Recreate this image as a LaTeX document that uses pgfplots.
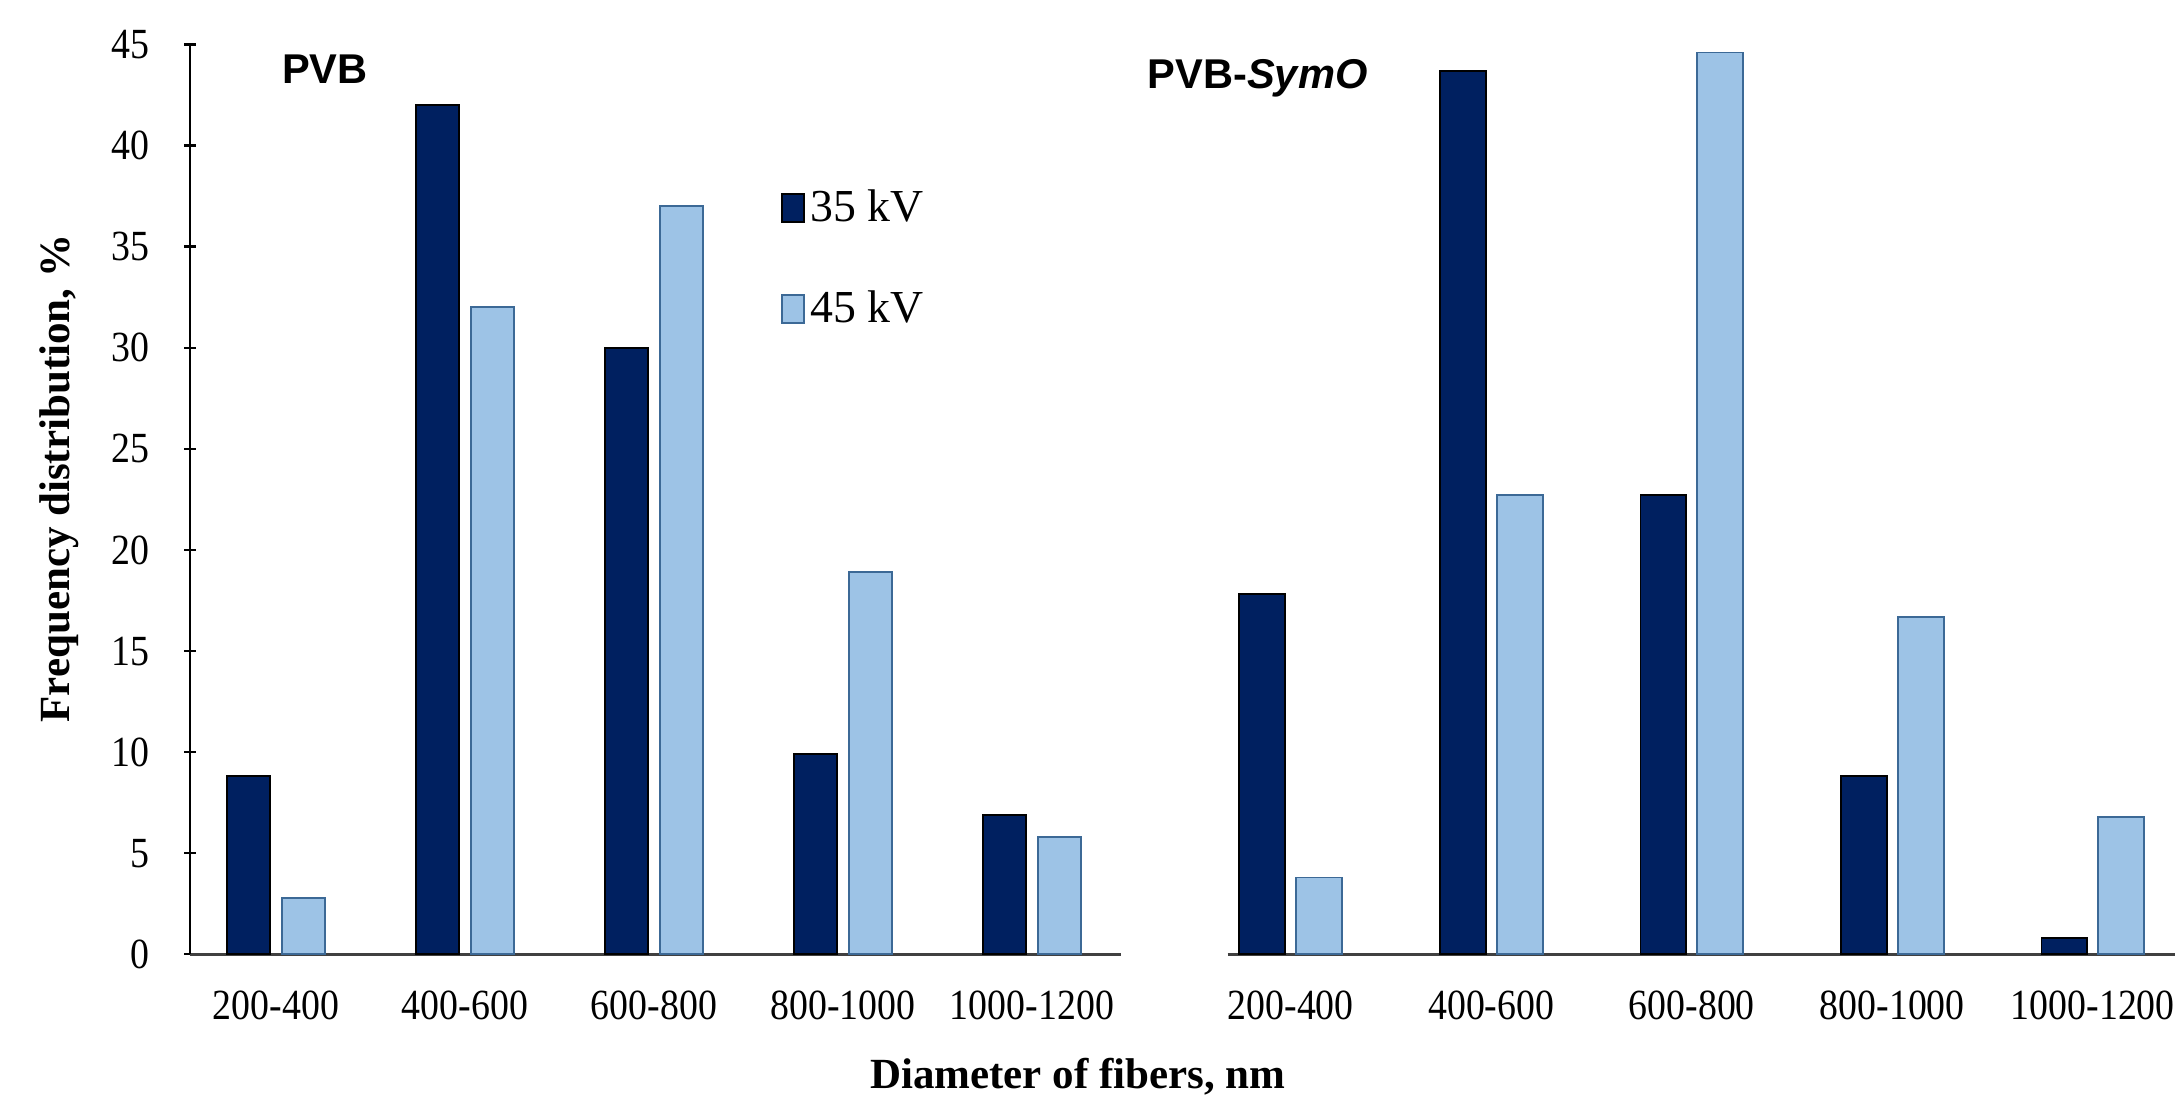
\documentclass[border=0pt]{standalone}
\usepackage{fontspec}
\setmainfont{Liberation Serif}
\newfontfamily\tickfont{Liberation Serif}[FakeStretch=0.88]
\newfontfamily\titlefont{Liberation Sans}
\usepackage{pgfplots}
\pgfplotsset{compat=1.18}
\definecolor{darkbar}{RGB}{0,32,96}
\definecolor{lightbar}{RGB}{157,195,230}
\definecolor{lightedge}{RGB}{60,105,150}
\pgfplotsset{
  common/.style={
    scale only axis, height=328pt, ymin=0, ymax=45,
    xtick={0,1,2,3,4},
    xticklabels={200-400,400-600,600-800,800-1000,1000-1200},
    xtick style={draw=none},
    tick align=inside,
    axis x line=bottom,
    x axis line style={-, line width=1.2pt, black!75},
    xticklabel style={font=\tickfont\fontsize{15.5}{18}\selectfont, yshift=-7.5pt},
    /pgf/number format/assume math mode=true,
    clip=false,
  },
  darkplot/.style={ybar, bar width=#1, fill=darkbar, draw=black, line width=0.7pt,
    legend image code/.code={\draw[fill=darkbar, draw=black, line width=0.7pt] (0pt,-5pt) rectangle (8pt,5pt);}},
  lightplot/.style={ybar, bar width=#1, fill=lightbar, draw=lightedge, line width=0.7pt,
    legend image code/.code={\draw[fill=lightbar, draw=lightedge, line width=0.7pt] (0pt,-5pt) rectangle (8pt,5pt);}},
}
\begin{document}
\begin{tikzpicture}
\useasboundingbox (0pt,0pt) rectangle (784pt,397pt);
% left panel
\begin{axis}[common, at={(68.5pt,53pt)}, anchor=south west, width=335.5pt,
  xmin=-0.455, xmax=4.47,
  axis y line=left, y axis line style={-, line width=0.8pt, black},
  ytick={0,5,...,45}, ytick style={black, line width=0.8pt},
  major tick length=4pt,
  yticklabel style={font=\tickfont\fontsize{15.5}{18}\selectfont, xshift=-9pt},
  legend style={draw=none, fill=none, at={(0.625,0.853)}, anchor=north west,
    row sep=19.5pt, font=\fontsize{16.5}{19}\selectfont,
    /tikz/every even column/.append style={column sep=5.5pt}},
  legend cell align=left,
]
\addplot[darkplot=15.5pt, bar shift=-10pt] coordinates {(0,8.8) (1,42.0) (2,30.0) (3,9.9) (4,6.9)};
\addlegendentry{35 kV}
\addplot[lightplot=15.5pt, bar shift=10pt] coordinates {(0,2.8) (1,32.0) (2,37.0) (3,18.9) (4,5.8)};
\addlegendentry{45 kV}
\end{axis}
% right panel
\begin{scope}
\clip (442.5pt,0pt) rectangle (784pt,397pt);
\begin{axis}[common, at={(442.5pt,53pt)}, anchor=south west, width=341.5pt,
  xmin=-0.315, xmax=4.41, axis y line=none]
\addplot[darkplot=16.5pt, bar shift=-10.25pt] coordinates {(0,17.8) (1,43.7) (2,22.7) (3,8.8) (4,0.8)};
\addplot[lightplot=16.5pt, bar shift=10.25pt] coordinates {(0,3.8) (1,22.7) (2,44.6) (3,16.7) (4,6.8)};
\end{axis}
\end{scope}
% titles and labels
\node[anchor=base west, font=\titlefont\bfseries\fontsize{15}{18}\selectfont, inner sep=0pt] at (101.5pt,367pt) {PVB};
\node[anchor=base west, font=\titlefont\bfseries\fontsize{15}{18}\selectfont, inner sep=0pt] at (413.5pt,365pt) {PVB-\textit{SymO}};
\node[rotate=90, font=\bfseries\fontsize{15.5}{18}\selectfont] at (21.5pt,224.5pt) {Frequency distribution, \%};
\node[font=\bfseries\fontsize{15.5}{18}\selectfont] at (388.5pt,8.75pt) {Diameter of fibers, nm};
\end{tikzpicture}
\end{document}
